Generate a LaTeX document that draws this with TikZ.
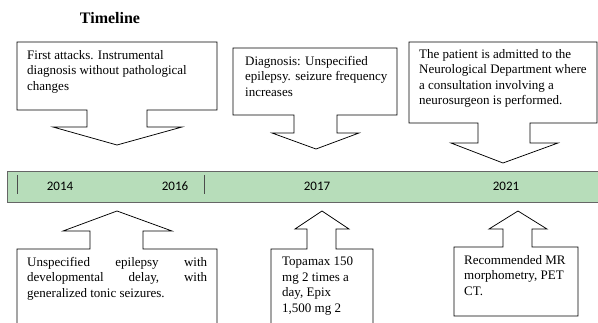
\documentclass[tikz,border=0pt]{standalone}
\usepackage{fontspec}
\setmainfont{Liberation Serif}
\newfontfamily\barfont{Carlito}
\definecolor{bargreen}{RGB}{183,221,186}
\begin{document}
\begin{tikzpicture}[x=1pt,y=-1pt,
  callout/.style={draw=black, line width=0.75pt, fill=white, line join=miter},
  txt/.style={anchor=north west, inner sep=0pt, align=left, font=\fontsize{13}{15.5}\selectfont},
  year/.style={font=\barfont\fontsize{13}{15}\selectfont, inner sep=0pt},
  tick/.style={draw=black!70, line width=0.8pt}]
\clip (0,0) rectangle (598,322);
\fill[white] (0,0) rectangle (598,322);

% title
\node[font=\bfseries\fontsize{16}{18}\selectfont, inner sep=0pt] (title) at (110,18) {Timeline};

% timeline bar
\draw[fill=bargreen, draw=black!60, line width=1pt] (7,171) rectangle (602,202);
\coordinate (k1a) at (17,175); \coordinate (k1b) at (17,194);
\coordinate (k2a) at (204,175); \coordinate (k2b) at (204,194);
\draw[tick] (k1a) -- (k1b);
\draw[tick] (k2a) -- (k2b);
\node[year] (y2014) at (60,186) {2014};
\node[year] (y2016) at (175,186) {2016};
\node[year] (y2017) at (317,186) {2017};
\node[year] (y2021) at (506,186) {2021};

% top callouts
\draw[callout] (17,42) -- (217,42) -- (217,110) -- (147,110) -- (147,127) -- (182,127)
  -- (117,145) -- (53,127) -- (87,127) -- (87,110) -- (17,110) -- cycle;
\node[txt] (a1) at (27,50) {First attacks. Instrumental\\diagnosis without pathological\\changes};

\draw[callout] (233,48) -- (397,48) -- (397,115) -- (337,115) -- (337,133) -- (359,133)
  -- (316,149) -- (272,133) -- (294,133) -- (294,115) -- (233,115) -- cycle;
\node[txt] (a2) at (245,56) {Diagnosis: Unspecified\\epilepsy. seizure frequency\\increases};

\draw[callout] (409,42) -- (597,42) -- (597,123) -- (530,123) -- (530,143) -- (558,143)
  -- (503,163) -- (451,143) -- (478,143) -- (478,123) -- (409,123) -- cycle;
\node[txt] (a3) at (419,49) {The patient is admitted to the\\Neurological Department where\\a consultation involving a\\neurosurgeon is performed.};

% bottom callouts
\draw[callout] (117,211) -- (172,231) -- (143,231) -- (143,249) -- (217,249) -- (217,330)
  -- (17,330) -- (17,249) -- (90,249) -- (90,231) -- (63,231) -- cycle;
\node[txt] (b1) at (27,257) {\hbox to 180pt{Unspecified\hfil epilepsy\hfil with}\\
  \hbox to 180pt{developmental\hfil delay,\hfil with}\\generalized tonic seizures.};

\draw[callout] (322,211) -- (349,229) -- (336,229) -- (336,249) -- (373,249) -- (373,330)
  -- (271,330) -- (271,249) -- (307,249) -- (307,229) -- (295,229) -- cycle;
\node[txt] (b2) at (282,257) {Topamax 150\\mg 2 times a\\day, Epix\\1,500 mg 2};

\draw[callout] (518,211) -- (547,229) -- (532,229) -- (532,247) -- (578,247) -- (578,316)
  -- (454,316) -- (454,247) -- (503,247) -- (503,229) -- (489,229) -- cycle;
\node[txt] (b3) at (464,255) {Recommended MR\\morphometry, PET\\CT.};
\end{tikzpicture}
\end{document}
